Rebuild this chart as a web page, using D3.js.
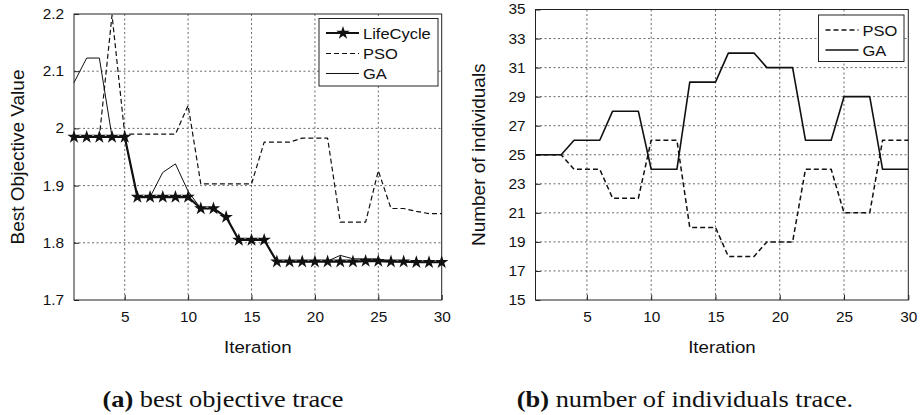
<!DOCTYPE html>
<html>
<head>
<meta charset="utf-8">
<script src="https://d3js.org/d3.v7.min.js"></script>
<style>
  body { margin: 0; background: #fff; }
  text { font-family: "Liberation Sans", Arial, sans-serif; fill: #111; }
  .cap { font-family: "Liberation Serif", "Times New Roman", serif; }
</style>
</head>
<body>
<div id="chart"></div>
<script>
// iterations shared by both panels
const iterations = [1,2,3,4,5,6,7,8,9,10,11,12,13,14,15,16,17,18,19,20,21,22,23,24,25,26,27,28,29,30];
const xTicks = [5,10,15,20,25,30];

// (a) best objective value
const lifeCycleObj = [1.985,1.985,1.985,1.985,1.985,1.88,1.88,1.88,1.88,1.88,1.86,1.86,1.845,1.805,1.805,1.805,1.767,1.767,1.767,1.767,1.767,1.767,1.767,1.768,1.768,1.767,1.767,1.766,1.766,1.766];
const psoObj = [1.985,1.985,1.985,2.198,1.99,1.99,1.99,1.99,1.99,2.04,1.903,1.903,1.903,1.903,1.903,1.976,1.976,1.976,1.983,1.983,1.983,1.836,1.836,1.836,1.926,1.86,1.86,1.855,1.851,1.851];
const gaObj = [2.08,2.123,2.123,1.985,1.985,1.88,1.88,1.923,1.938,1.89,1.86,1.86,1.845,1.805,1.805,1.805,1.767,1.767,1.767,1.767,1.768,1.778,1.772,1.772,1.772,1.767,1.767,1.766,1.766,1.766];
const objTicks = [1.7,1.8,1.9,2,2.1,2.2];

// (b) number of individuals
const psoNum = [25,25,25,24,24,24,22,22,22,26,26,26,20,20,20,18,18,18,19,19,19,24,24,24,21,21,21,26,26,26];
const gaNum = [25,25,25,26,26,26,28,28,28,24,24,24,30,30,30,32,32,32,31,31,31,26,26,26,29,29,29,24,24,24];
const numTicks = [15,17,19,21,23,25,27,29,31,33,35];

const W = 924, H = 415;
const stretch = "scale(1.1,1)";

const svg = d3.select("#chart")
              .append("svg")
              .attr("width", W)
              .attr("height", H);

svg.append("rect").attr("width", W).attr("height", H).attr("fill", "#fff");

function drawPanel(cfg) {
   const x = d3.scaleLinear().domain([1, 30]).range([cfg.left, cfg.right]);
   const y = d3.scaleLinear().domain(cfg.yDomain).range([cfg.bottom, cfg.top]);
   const g = svg.append("g");

   // dotted grid
   g.selectAll(".vgrid")
    .data(xTicks.slice(0, -1))
    .join("line")
    .attr("x1", d => x(d)).attr("x2", d => x(d))
    .attr("y1", cfg.top).attr("y2", cfg.bottom)
    .attr("stroke", "#444").attr("stroke-width", 0.8)
    .attr("stroke-dasharray", "2,2.5");
   g.selectAll(".hgrid")
    .data(cfg.yTicks.slice(1, -1))
    .join("line")
    .attr("x1", cfg.left).attr("x2", cfg.right)
    .attr("y1", d => y(d)).attr("y2", d => y(d))
    .attr("stroke", "#444").attr("stroke-width", 0.8)
    .attr("stroke-dasharray", "2,2.5");

   // axes, ticks pointing in
   const xa = g.append("g")
               .attr("transform", `translate(0,${cfg.bottom})`)
               .call(d3.axisBottom(x).tickValues(xTicks).tickSizeInner(-5).tickSizeOuter(0).tickPadding(12));
   const ya = g.append("g")
               .attr("transform", `translate(${cfg.left},0)`)
               .call(d3.axisLeft(y).tickValues(cfg.yTicks).tickFormat(d3.format("")).tickSizeInner(-5).tickSizeOuter(0).tickPadding(9));
   [xa, ya].forEach(a => {
      a.select(".domain").remove();
      a.selectAll("line").attr("stroke", "#222");
      a.selectAll("text")
       .style("font-size", "14px")
       .style("font-family", "Liberation Sans, Arial, sans-serif")
       .attr("fill", "#111")
       .attr("transform", stretch);
   });

   // box
   g.append("rect")
    .attr("x", cfg.left).attr("y", cfg.top)
    .attr("width", cfg.right - cfg.left).attr("height", cfg.bottom - cfg.top)
    .attr("fill", "none").attr("stroke", "#222").attr("stroke-width", 1);

   // series
   const line = d3.line().x((d, i) => x(iterations[i])).y(d => y(d));
   cfg.series.forEach(s => {
      g.append("path")
       .attr("d", line(s.values))
       .attr("fill", "none")
       .attr("stroke", "#111")
       .attr("stroke-width", s.width)
       .attr("stroke-dasharray", s.dash || null)
       .attr("stroke-linejoin", "round");
      if (s.star) {
         g.selectAll(".star")
          .data(s.values)
          .join("path")
          .attr("transform", (d, i) => `translate(${x(iterations[i])},${y(d)})`)
          .attr("d", d3.symbol(d3.symbolStar, 56))
          .attr("fill", "#111");
      }
   });

   // axis titles
   g.append("text")
    .attr("transform", `translate(${(cfg.left + cfg.right) / 2},353) ${stretch}`)
    .attr("text-anchor", "middle")
    .style("font-size", "17px")
    .text("Iteration");
   g.append("text")
    .attr("transform", `translate(${cfg.yLabelX},${(cfg.top + cfg.bottom) / 2}) rotate(-90)`)
    .attr("text-anchor", "middle")
    .style("font-size", "19px")
    .text(cfg.yLabel);

   // caption
   const cap = g.append("text")
                .attr("class", "cap")
                .attr("transform", `translate(${cfg.capX},407) ${stretch}`)
                .attr("text-anchor", "middle")
                .style("font-size", "24px");
   cap.append("tspan").style("font-weight", "bold").text(cfg.capBold);
   cap.append("tspan").text(cfg.capText);

   // legend
   const lg = cfg.legend;
   g.append("rect")
    .attr("x", lg.x).attr("y", lg.y)
    .attr("width", lg.w).attr("height", lg.h)
    .attr("fill", "#fff").attr("stroke", "#222").attr("stroke-width", 1);
   cfg.series.forEach((s, i) => {
      const ry = lg.rows[i];
      g.append("line")
       .attr("x1", lg.x + 7).attr("x2", lg.x + 40)
       .attr("y1", ry).attr("y2", ry)
       .attr("stroke", "#111").attr("stroke-width", s.width)
       .attr("stroke-dasharray", s.dash || null);
      if (s.star) {
         g.append("path")
          .attr("transform", `translate(${lg.x + 24},${ry})`)
          .attr("d", d3.symbol(d3.symbolStar, 56))
          .attr("fill", "#111");
      }
      g.append("text")
       .attr("transform", `translate(${lg.x + 44},${ry + 5.5}) ${stretch}`)
       .style("font-size", "15px")
       .text(s.name);
   });
}

drawPanel({
   left: 74, right: 441.7, top: 14, bottom: 300,
   yDomain: [1.7, 2.2], yTicks: objTicks,
   yLabel: "Best Objective Value", yLabelX: 24,
   capX: 223, capBold: "(a)", capText: " best objective trace",
   series: [
      {name: "LifeCycle", values: lifeCycleObj, width: 2.2, star: true},
      {name: "PSO", values: psoObj, width: 1.2, dash: "5,3"},
      {name: "GA", values: gaObj, width: 1}
   ],
   legend: {x: 319, y: 18.5, w: 119, h: 67.5, rows: [33, 53.5, 73.5]}
});

drawPanel({
   left: 535.5, right: 908.3, top: 9.5, bottom: 300,
   yDomain: [15, 35], yTicks: numTicks,
   yLabel: "Number of individuals", yLabelX: 485,
   capX: 685, capBold: "(b)", capText: " number of individuals trace.",
   series: [
      {name: "PSO", values: psoNum, width: 1.5, dash: "5,3"},
      {name: "GA", values: gaNum, width: 1.6}
   ],
   legend: {x: 818.5, y: 15, w: 85.5, h: 46.5, rows: [30, 50]}
});
</script>
</body>
</html>
